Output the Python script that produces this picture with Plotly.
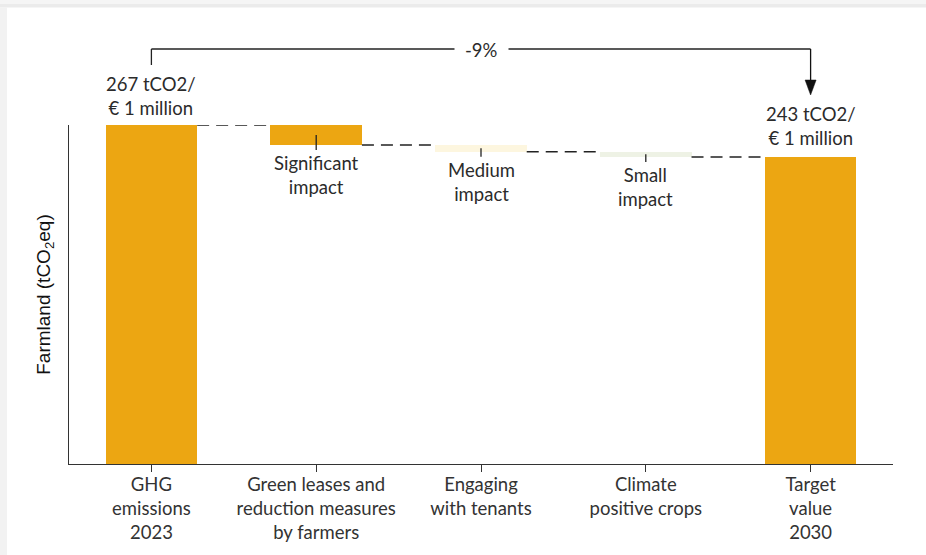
import plotly.graph_objects as go

# ---------------- data ----------------
categories = ["GHG<br>emissions<br>2023",
              "Green leases and<br>reduction measures<br>by farmers",
              "Engaging<br>with tenants",
              "Climate<br>positive crops",
              "Target<br>value<br>2030"]
start_value = 267
reductions = [15, 5, 4]          # significant, medium, small impact
target_value = 243
impact_labels = ["Significant<br>impact", "Medium<br>impact", "Small<br>impact"]
start_label = "267 tCO2/<br>€ 1 million"
target_label = "243 tCO2/<br>€ 1 million"
change_label = "-9%"

# ---------------- style ----------------
W, H = 926, 555
ML, MR, MT, MB = 69, 33, 125, 91
PW, PH = W - ML - MR, H - MT - MB
ORANGE = "#ECA612"
bar_colors = [ORANGE, ORANGE, "#FDF6DF", "#EEF2E5", ORANGE]
TXT = "#2b2b2b"
FONT = "Lato"
FS = 18.5
YMIN = 12.75
YMAX = start_value
UPP = (YMAX - YMIN) / PH  # data units per pixel

def xp(px):
    return (px - ML) / PW

def yp(py):
    return (H - MB - py) / PH

# build waterfall bases/heights
bases, heights = [0], [start_value]
level = start_value
for r in reductions:
    level -= r
    bases.append(level)
    heights.append(r)
bases.append(0)
heights.append(target_value)
tops = [b + h for b, h in zip(bases, heights)]
BW = 0.555
last = len(categories) - 1

fig = go.Figure(go.Bar(
    x=list(range(len(categories))), y=heights, base=bases, width=BW,
    marker=dict(color=bar_colors, line=dict(width=0)),
    hoverinfo="skip", showlegend=False))

shapes = []
# card shadow
shapes += [
    dict(type="rect", xref="paper", yref="paper", x0=xp(0), x1=xp(W), y0=yp(4), y1=yp(0),
         fillcolor="#f5f5f5", line_width=0, layer="below"),
    dict(type="rect", xref="paper", yref="paper", x0=xp(0), x1=xp(W), y0=yp(7.5), y1=yp(4),
         fillcolor="#ebebeb", line_width=0, layer="below"),
    dict(type="rect", xref="paper", yref="paper", x0=xp(0), x1=xp(7), y0=yp(H), y1=yp(7.5),
         fillcolor="#f2f2f2", line_width=0, layer="below"),
]
# dashed connectors
levels = [start_value]
lv = start_value
for r in reductions:
    lv -= r
    levels.append(lv)
for i, lv in enumerate(levels):
    shapes.append(dict(type="line", xref="x", yref="y",
                       x0=i + BW / 2, x1=i + 1 - BW / 2, y0=lv, y1=lv,
                       line=dict(color="#222222", width=1.5, dash="12px,7px")))
# small pointer lines under impact bars
for j in range(len(reductions)):
    i = j + 1
    mid = bases[i] + heights[i] / 2
    shapes.append(dict(type="line", xref="x", yref="y", x0=i, x1=i,
                       y0=mid, y1=bases[i] - 5 * UPP,
                       line=dict(color="#222222", width=1.3)))
# top bracket with arrow
ytop = yp(49)
shapes += [
    dict(type="line", xref="x", yref="paper", x0=0, x1=0, y0=yp(65), y1=ytop,
         line=dict(color="#222222", width=1.3)),
    dict(type="line", xref="x", yref="paper", x0=0, x1=last, y0=ytop, y1=ytop,
         line=dict(color="#222222", width=1.3)),
    dict(type="line", xref="x", yref="paper", x0=last, x1=last, y0=ytop, y1=yp(82),
         line=dict(color="#111111", width=1.3)),
    dict(type="path", xref="x", yref="paper", xsizemode="pixel", ysizemode="pixel",
         xanchor=last, yanchor=yp(95), path="M -5.5,15 L 5.5,15 L 0,0 Z",
         fillcolor="#111111", line=dict(color="#111111", width=0.5)),
]

annotations = []
annotations.append(dict(x=0, y=tops[0], xref="x", yref="y", text=start_label,
                        showarrow=False, yanchor="bottom", yshift=4,
                        font=dict(family=FONT, size=FS, color=TXT)))
annotations.append(dict(x=last, y=tops[-1], xref="x", yref="y", text=target_label,
                        showarrow=False, yanchor="bottom", yshift=6,
                        font=dict(family=FONT, size=FS, color=TXT)))
for j, lab in enumerate(impact_labels):
    i = j + 1
    annotations.append(dict(x=i, y=bases[i], xref="x", yref="y", text=lab,
                            showarrow=False, yanchor="top", yshift=-5,
                            font=dict(family=FONT, size=FS, color=TXT)))
annotations.append(dict(x=last / 2, y=ytop, xref="x", yref="paper",
                        text=change_label, showarrow=False, bgcolor="white", borderpad=10,
                        xanchor="center", yanchor="middle", yshift=-1,
                        font=dict(family=FONT, size=FS, color=TXT)))

fig.update_layout(
    width=W, height=H, margin=dict(l=ML, r=MR, t=MT, b=MB, pad=0),
    paper_bgcolor="white", plot_bgcolor="white",
    shapes=shapes, annotations=annotations, bargap=0,
    xaxis=dict(range=[-0.5, len(categories) - 0.5], tickmode="array",
               tickvals=list(range(len(categories))), ticktext=categories,
               tickson="boundaries", ticks="outside", ticklen=7, tickcolor="#333333",
               ticklabelstandoff=-3,
               showline=True, linecolor="#333333", linewidth=1.3, showgrid=False,
               zeroline=False, tickfont=dict(family=FONT, size=FS, color="#333333")),
    yaxis=dict(range=[YMIN, YMAX], showline=True, linecolor="#333333", linewidth=1.3,
               showticklabels=False, ticks="", showgrid=False, zeroline=False,
               title=dict(text="Farmland (tCO<sub>2</sub>eq)", standoff=12,
                          font=dict(family="Liberation Sans", size=19, color="#111111"))),
)

fig.write_html("out.html")
